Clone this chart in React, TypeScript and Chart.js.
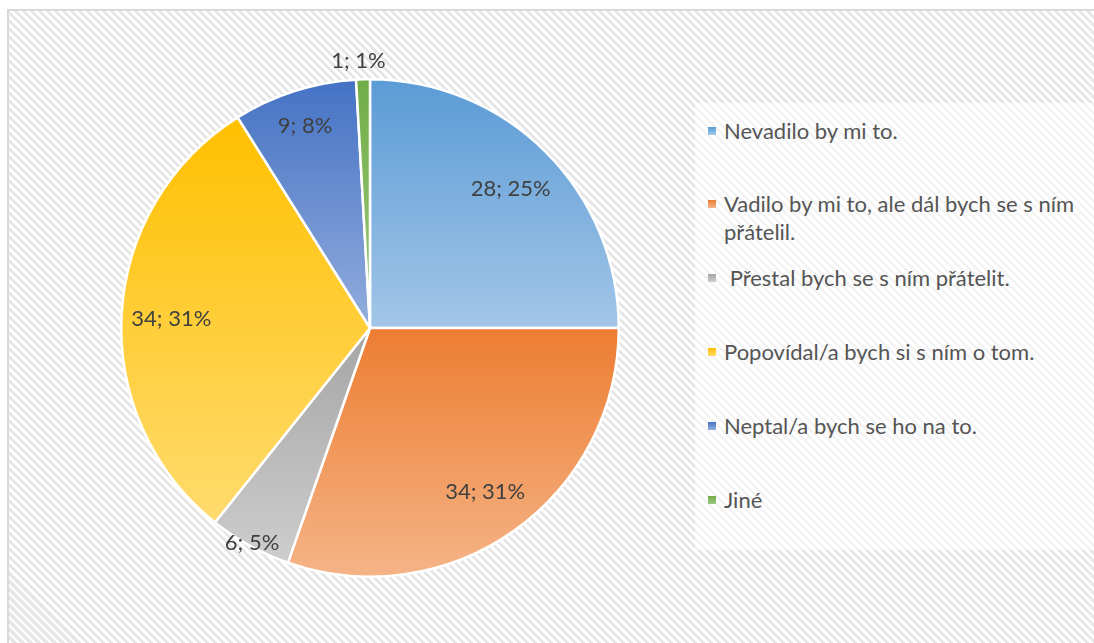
import React, { useEffect, useRef } from "react";
import { Chart, registerables } from "chart.js";

Chart.register(...registerables);

const categories = [
  "Nevadilo by mi to.",
  "Vadilo by mi to, ale dál bych se s ním\npřátelil.",
  " Přestal bych se s ním přátelit.",
  "Popovídal/a bych si s ním o tom.",
  "Neptal/a bych se ho na to.",
  "Jiné",
];
const values = [28, 34, 6, 34, 9, 1];
const percentLabels = ["25%", "31%", "5%", "31%", "8%", "1%"];
const topColors = ["#5B9BD5", "#ED7D31", "#A5A5A5", "#FFC000", "#4472C4", "#70AD47"];
const bottomColors = ["#A2C6E8", "#F5B487", "#CDCDCD", "#FFDB6E", "#93ADDD", "#9CC97E"];

const FONT = "Lato, 'Open Sans', sans-serif";

const gradientPlugin = {
  id: "sliceGradient",
  beforeDatasetsDraw(chart: any) {
    const ctx = chart.ctx;
    const meta = chart.getDatasetMeta(0);
    meta.data.forEach((arc: any, i: number) => {
      const { x, y, startAngle, endAngle, outerRadius } = arc;
      const ys = [y, y + outerRadius * Math.sin(startAngle), y + outerRadius * Math.sin(endAngle)];
      const norm = (a: number) => ((a % (2 * Math.PI)) + 2 * Math.PI) % (2 * Math.PI);
      const inRange = (a: number) => {
        const s = norm(startAngle);
        const span = endAngle - startAngle;
        const d = norm(a - s);
        return d <= span;
      };
      if (inRange(Math.PI / 2)) ys.push(y + outerRadius);
      if (inRange(-Math.PI / 2)) ys.push(y - outerRadius);
      const top = Math.min(...ys);
      const bottom = Math.max(...ys);
      const g = ctx.createLinearGradient(0, top, 0, bottom);
      g.addColorStop(0, topColors[i]);
      g.addColorStop(1, bottomColors[i]);
      arc.options = Object.assign({}, arc.options, { backgroundColor: g });
    });
  },
};

const labelPlugin = {
  id: "sliceLabels",
  afterDatasetsDraw(chart: any) {
    const ctx = chart.ctx;
    const meta = chart.getDatasetMeta(0);
    ctx.save();
    ctx.font = `22px ${FONT}`;
    ctx.fillStyle = "#404040";
    ctx.textAlign = "center";
    ctx.textBaseline = "middle";
    meta.data.forEach((arc: any, i: number) => {
      const { x, y, startAngle, endAngle, outerRadius } = arc;
      const span = ((endAngle - startAngle) * 180) / Math.PI;
      const mid = (startAngle + endAngle) / 2;
      let r: number;
      if (span >= 60) r = outerRadius * 0.8;
      else if (span >= 20) r = outerRadius * 0.86;
      else if (span >= 10) r = outerRadius * 0.98;
      else r = outerRadius + 20;
      const text = `${values[i]}; ${percentLabels[i]}`;
      ctx.fillText(text, x + r * Math.cos(mid) - (span < 10 ? 4 : 0), y + r * Math.sin(mid) + 2);
    });
    ctx.restore();
  },
};

export default function App() {
  const canvasRef = useRef<HTMLCanvasElement>(null);

  useEffect(() => {
    if (!canvasRef.current) return;
    const chart = new Chart(canvasRef.current, {
      type: "pie",
      data: {
        labels: categories,
        datasets: [
          {
            data: values,
            backgroundColor: topColors,
            borderColor: "#ffffff",
            borderWidth: 2.5,
            hoverBorderWidth: 2.5,
          },
        ],
      },
      options: {
        responsive: false,
        animation: false,
        layout: { padding: { left: 120, top: 78, right: 474, bottom: 65 } },
        plugins: {
          legend: { display: false },
          tooltip: { enabled: false },
        },
      },
      plugins: [gradientPlugin, labelPlugin],
    });
    return () => chart.destroy();
  }, []);

  const slotTops = [117, 190, 264, 338, 412, 486];

  return (
    <div>
      <div
        style={{
          position: "fixed",
          left: 7,
          top: 9,
          width: 1087,
          height: 634,
          boxSizing: "border-box",
          borderTop: "2px solid #d9d9d9",
          borderLeft: "2px solid #d9d9d9",
          background:
            "repeating-linear-gradient(45deg, #ffffff 0px, #ffffff 2.8px, #e6e6e6 2.8px, #e6e6e6 5.66px)",
        }}
      />
      <div
        style={{
          position: "fixed",
          left: 695,
          top: 103,
          width: 399,
          height: 447,
          background: "rgba(255,255,255,0.55)",
        }}
      />
      {categories.map((c, i) => (
        <div
          key={i}
          style={{
            position: "fixed",
            left: 708,
            top: slotTops[i],
            display: "flex",
            alignItems: "flex-start",
            fontFamily: FONT,
            fontSize: 22,
            lineHeight: "28px",
            color: "#555555",
          }}
        >
          <div
            style={{
              width: 8,
              height: 8,
              marginTop: 10,
              marginRight: 8,
              background: `linear-gradient(${topColors[i]}, ${bottomColors[i]})`,
              flex: "none",
            }}
          />
          <div style={{ whiteSpace: "pre" }}>{c}</div>
        </div>
      ))}
      <canvas
        ref={canvasRef}
        width={1094}
        height={643}
        style={{ position: "fixed", left: 0, top: 0, width: 1094, height: 643 }}
      />
    </div>
  );
}
